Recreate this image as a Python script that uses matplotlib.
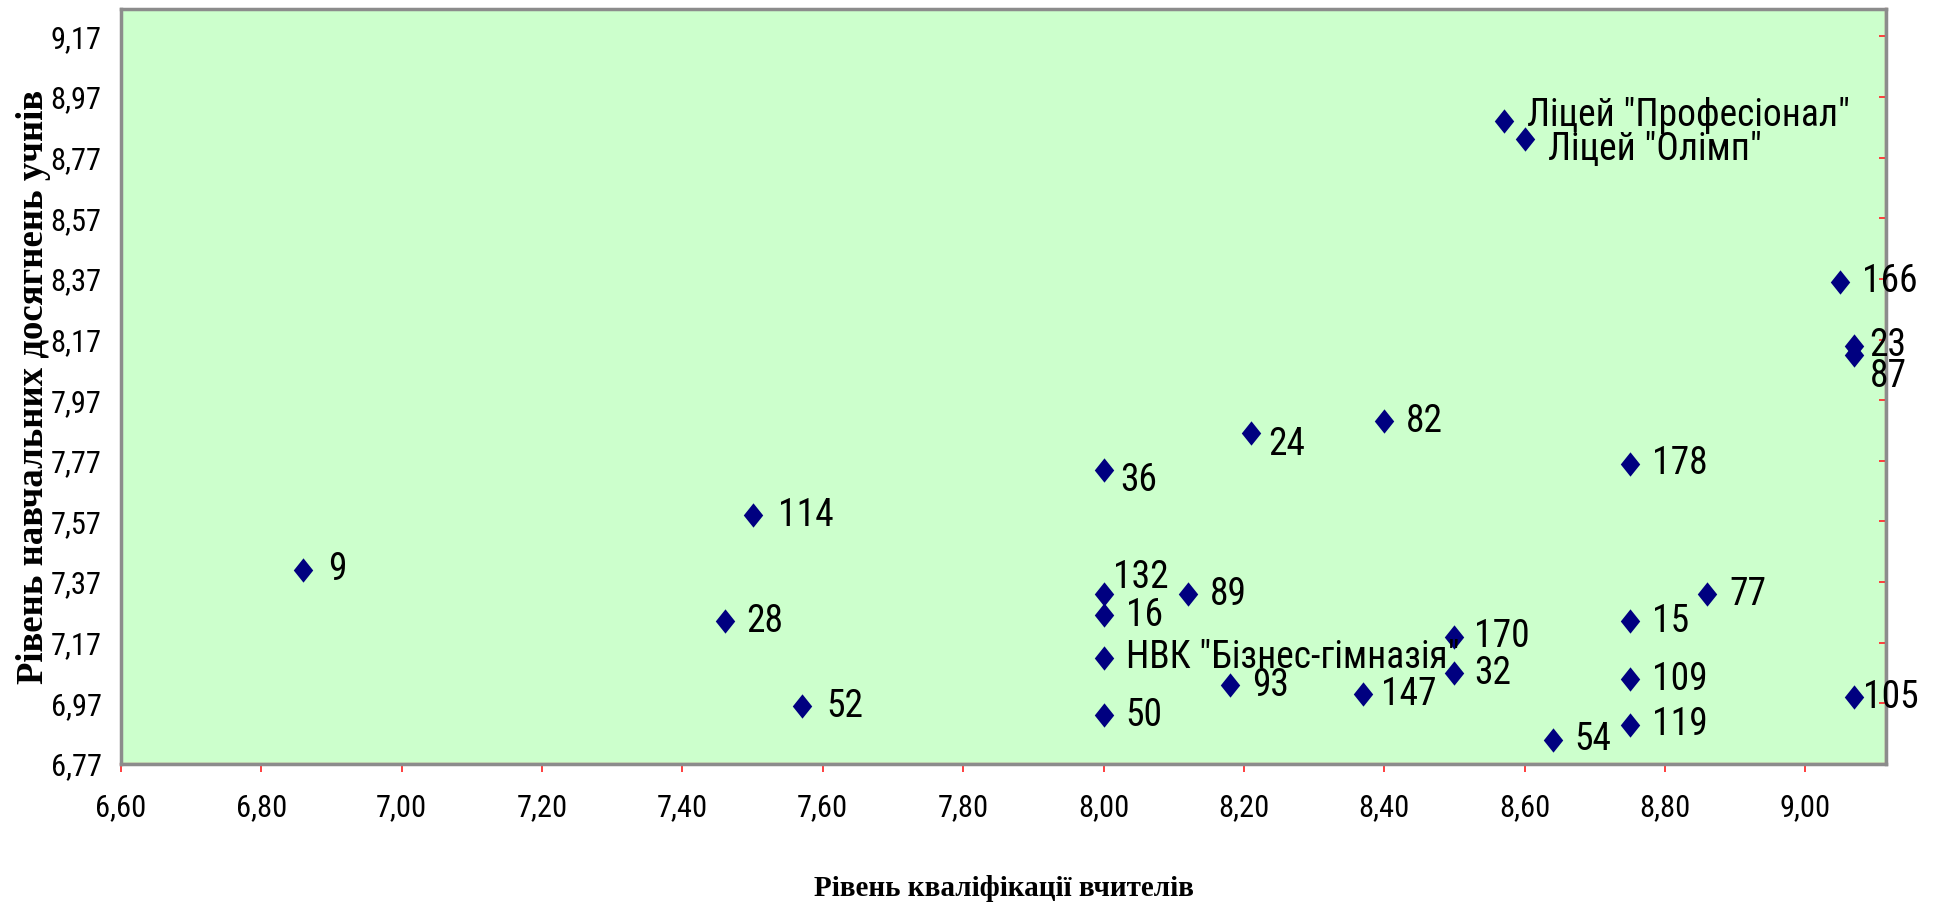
"""
Scatter: teacher qualification vs student achievement (by school)
"""
import matplotlib
matplotlib.use("Agg")
import matplotlib.pyplot as plt
from matplotlib.path import Path
from matplotlib.ticker import FixedLocator, FuncFormatter

# data
schools = ['9', '114', '28', '52', '36', '132', '16', 'НВК "Бізнес-гімназія"', '50',
           '89', '93', '24', '82', '147', '170', '32', '54',
           'Ліцей "Професіонал"', 'Ліцей "Олімп"',
           '178', '15', '109', '119', '77', '166', '23', '87', '105']
qualification = [6.86, 7.50, 7.46, 7.57, 8.00, 8.00, 8.00, 8.00, 8.00,
                 8.12, 8.18, 8.21, 8.40, 8.37, 8.50, 8.50, 8.64,
                 8.57, 8.60,
                 8.75, 8.75, 8.75, 8.75, 8.86, 9.05, 9.07, 9.07, 9.07]
achievement = [7.41, 7.59, 7.24, 6.96, 7.74, 7.33, 7.26, 7.12, 6.93,
               7.33, 7.03, 7.86, 7.90, 7.00, 7.19, 7.07, 6.85,
               8.89, 8.83,
               7.76, 7.24, 7.05, 6.90, 7.33, 8.36, 8.15, 8.12, 6.99]

x_ticks = [6.60, 6.80, 7.00, 7.20, 7.40, 7.60, 7.80, 8.00, 8.20, 8.40, 8.60, 8.80, 9.00]
y_ticks = [6.77, 6.97, 7.17, 7.37, 7.57, 7.77, 7.97, 8.17, 8.37, 8.57, 8.77, 8.97, 9.17]

x_title = 'Рівень кваліфікації вчителів'
y_title = 'Рівень навчальних досягнень учнів'

# label placement (pixel offsets from the marker), default is to the right
default_offset = (22, 0)
label_offsets = {
    '9': (25, 0), '114': (25, 0), '52': (25, 0),
    '36': (17, -11), '24': (17, -11), '132': (9, 17),
    '147': (18, 0), '170': (20, 0), '32': (20, 0),
    '23': (15, 0), '87': (15, -22), '105': (9, 0),
    'Ліцей "Професіонал"': (23, 6), 'Ліцей "Олімп"': (23, -10),
}

label_font = ['Roboto Condensed', 'Liberation Sans', 'DejaVu Sans']
title_font = ['Liberation Serif', 'DejaVu Serif']

fig = plt.figure(figsize=(19.36, 9.10), dpi=100)
ax = fig.add_axes([121 / 1936, (910 - 764) / 910, 1765 / 1936, 755 / 910])
ax.set_facecolor('#CCFFCC')

# tall diamond marker
diamond = Path([(0, 1), (0.8, 0), (0, -1), (-0.8, 0), (0, 1)],
               [Path.MOVETO, Path.LINETO, Path.LINETO, Path.LINETO, Path.CLOSEPOLY])
ax.plot(qualification, achievement, linestyle='none', marker=diamond,
        markersize=17.5, color='#000080', markeredgewidth=0, zorder=3, clip_on=False)

for name, x, y in zip(schools, qualification, achievement):
    dx, dy = label_offsets.get(name, default_offset)
    ax.annotate(name, (x, y), xytext=(dx, dy), textcoords='offset pixels',
                ha='left', va='center', fontsize=27, family=label_font,
                color='black', zorder=4, annotation_clip=False)

ax.set_xlim(6.60, 9.115)
ax.set_ylim(6.77, 9.26)

ax.xaxis.set_major_locator(FixedLocator(x_ticks))
ax.yaxis.set_major_locator(FixedLocator(y_ticks))
ax.xaxis.set_major_formatter(FuncFormatter(lambda v, p: f'{v:.2f}'.replace('.', ',')))
ax.yaxis.set_major_formatter(FuncFormatter(lambda v, p: f'{v:.2f}'.replace('.', ',')))

ax.tick_params(axis='x', direction='out', length=6, width=1.3, color='#FF3030',
               pad=15, labelsize=22)
ax.tick_params(axis='y', left=False, right=True, labelleft=True, labelright=False,
               direction='in', length=5, width=1.3, color='#FF3030', pad=14, labelsize=22)
for lbl in ax.get_xticklabels() + ax.get_yticklabels():
    lbl.set_family(label_font)

for side in ['left', 'top', 'right', 'bottom']:
    ax.spines[side].set_color('#8C8C8C')
    ax.spines[side].set_linewidth(2.5)
# the value axes are drawn in red on the right and bottom edges
ax.axvline(9.115, color='#E03030', linewidth=1.6, zorder=2.5, clip_on=False)
ax.axhline(6.77, color='#E03030', linewidth=1.6, zorder=2.5, clip_on=False)

ax.set_xlabel(x_title, fontsize=21, fontweight='bold', family=title_font)
ax.set_ylabel(y_title, fontsize=26.5, fontweight='bold', family=title_font)
ax.xaxis.set_label_coords(0.5, -0.165)
ax.yaxis.set_label_coords(-0.0495, 0.5)
ax.xaxis.label.set_va('center')
ax.yaxis.label.set_va('center')

fig.savefig('out.png', dpi=100, facecolor='white')
